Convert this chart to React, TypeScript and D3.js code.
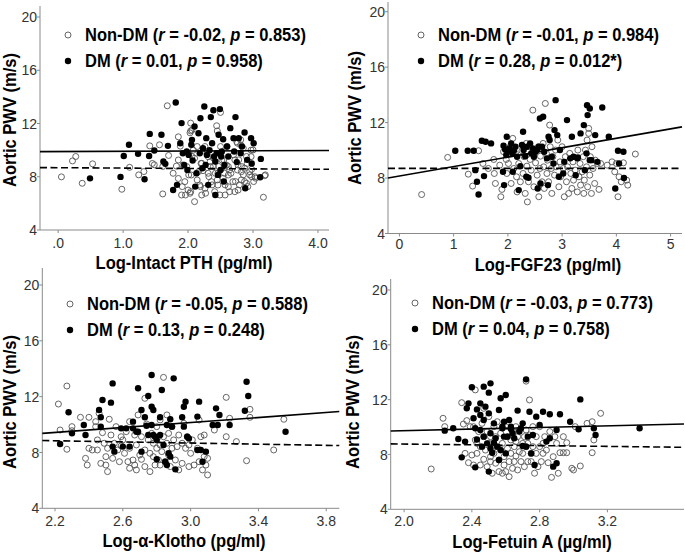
import React from 'react';
import * as d3 from 'd3';

type Pt = [number, number];

// ---------------- DATA ----------------
const yTicks = [4, 8, 12, 16, 20];

const xTickValues1 = [0, 1, 2, 3, 4];
const xTickLabels1 = ['.0', '1.0', '2.0', '3.0', '4.0'];
const xTickValues2 = [0, 1, 2, 3, 4, 5];
const xTickLabels2 = ['0', '1', '2', '3', '4', '5'];
const xTickValues3 = [2.2, 2.6, 3.0, 3.4, 3.8];
const xTickLabels3 = ['2.2', '2.6', '3.0', '3.4', '3.8'];
const xTickValues4 = [2.0, 2.4, 2.8, 3.2];
const xTickLabels4 = ['2.0', '2.4', '2.8', '3.2'];

const xTitles = ['Log-Intact PTH (pg/ml)', 'Log-FGF23 (pg/ml)', 'Log-α-Klotho (pg/ml)', 'Log-Fetuin A (µg/ml)'];
const yTitle = 'Aortic PWV (m/s)';

const nonDmR = ['-0.02', '-0.01', '-0.05', '-0.03'];
const nonDmP = ['0.853', '0.984', '0.588', '0.773'];
const dmR = ['0.01', '0.28', '0.13', '0.04'];
const dmP = ['0.958', '0.012*', '0.248', '0.758'];

// fit lines: intercept, slope
const dmFitIntercept = [9.89, 8.15, 7.48, 9.15];
const dmFitSlope = [0.02, 0.68, 0.89, 0.294];
const nonDmFitIntercept = [8.68, 8.7, 9.29, 9.05];
const nonDmFitSlope = [-0.029, 0, -0.205, -0.144];

const pthNonDM: Pt[] = [
  [0.05,7.99],[0.22,9.19],[0.27,9.52],[0.37,7.51],[0.53,8.97],[0.98,7.06],[1.10,8.71],[1.24,8.14],[1.32,8.39],[1.41,10.32],
  [1.45,9.0],[1.48,8.9],[1.56,10.4],[1.61,8.77],[1.61,6.71],[1.68,13.33],[1.70,9.6],[1.77,8.26],[1.82,8.8],[1.85,11.0],
  [1.88,10.3],[1.91,7.26],[1.96,6.63],[1.98,8.76],[2.01,8.14],[2.04,6.88],[2.06,9.52],[2.08,10.0],[2.10,6.13],[2.14,10.27],
  [2.14,7.76],[2.19,7.26],[2.20,9.0],[2.23,8.46],[2.27,6.76],[2.29,9.77],[2.32,8.01],[2.34,8.77],[2.37,7.39],[2.39,9.4],
  [2.42,8.26],[2.45,7.76],[2.47,8.77],[2.49,6.63],[2.50,10.27],[2.50,12.83],[2.55,9.27],[2.56,8.26],[2.57,7.39],[2.60,10.27],
  [2.62,8.77],[2.64,6.88],[2.66,8.26],[2.70,9.65],[2.73,7.64],[2.76,10.52],[2.76,8.51],[2.78,9.27],[2.79,7.39],[2.81,10.77],
  [2.82,8.77],[2.85,8.14],[2.87,7.64],[2.90,9.52],[2.91,9.0],[2.92,7.26],[2.95,8.14],[2.97,10.0],[2.98,8.56],[3.01,7.64],
  [3.04,7.89],[3.16,6.46],[3.19,8.14],[2.04,12.03],[2.06,11.5],[2.03,11.3],[2.04,11.44],[2.26,10.27],[2.44,11.83],[2.45,11.44],
  [2.75,10.63],[2.81,10.39],[2.85,10.14],[3.0,10.01],[2.97,9.51],[1.85,9.26],[1.92,8.88],[2.10,9.39],[2.21,9.01],[2.31,9.51],
  [2.34,9.13],[2.39,8.76],[2.52,9.26],[2.59,8.88],[2.64,8.51],[2.72,9.26],[2.77,8.88],[2.82,8.38],[2.87,8.64],[2.95,8.38],
  [3.03,8.0],[3.18,8.08],[1.85,7.87],[1.95,7.63],[2.0,7.0],[2.18,7.38],[2.26,7.13],[2.36,7.63],[2.46,7.38],[2.54,7.88],
  [2.62,7.25],[2.69,7.63],[2.77,7.0],[2.82,7.76],[2.90,7.51],[2.98,8.0],[1.90,6.63],[2.03,6.76],[2.21,6.63],[2.57,6.63],
  [2.41,6.88],[2.72,6.88],[2.31,8.26],[2.46,8.26],[2.62,8.13],[2.16,8.38],[2.05,8.13],
];
const pthDM: Pt[] = [
  [0.49,7.88],[0.96,7.99],[1.01,9.56],[1.09,10.4],[1.23,9.72],[1.33,7.81],[1.40,9.56],[1.41,11.22],[1.48,9.97],[1.59,11.15],
  [1.62,9.14],[1.65,8.97],[1.69,10.32],[1.77,7.01],[1.81,13.58],[1.83,7.39],[1.88,10.52],[1.90,12.03],[1.92,9.77],[1.94,8.89],
  [1.98,9.9],[1.99,8.51],[2.01,9.64],[2.05,10.4],[2.06,10.77],[2.07,9.22],[2.10,11.77],[2.11,7.26],[2.13,8.26],[2.16,11.27],
  [2.18,9.77],[2.19,12.4],[2.22,8.64],[2.23,10.15],[2.25,13.28],[2.27,8.89],[2.28,10.9],[2.29,9.64],[2.31,7.39],[2.33,10.0],
  [2.35,12.48],[2.37,10.52],[2.39,13.0],[2.40,9.52],[2.42,6.63],[2.42,9.14],[2.44,9.77],[2.46,8.14],[2.47,11.15],[2.49,13.08],
  [2.50,8.51],[2.51,9.52],[2.52,9.9],[2.54,10.82],[2.55,7.64],[2.56,8.89],[2.60,10.27],[2.62,9.52],[2.65,11.65],[2.70,10.9],
  [2.71,9.9],[2.73,12.48],[2.75,9.1],[2.78,10.9],[2.81,9.77],[2.83,10.27],[2.87,11.32],[2.88,7.14],[2.91,9.27],[2.97,10.9],
  [2.98,9.0],[3.01,10.52],[3.11,7.96],[3.12,9.34],
];

const fgfNonDM: Pt[] = [
  [0.41,6.81],[0.89,9.49],[1.27,8.28],[1.35,7.42],[1.46,9.97],[1.54,9.05],[1.64,8.69],[1.74,9.34],[1.75,8.33],[1.77,7.61],
  [1.85,8.93],[1.87,6.65],[1.89,7.18],[1.92,9.90],[1.97,9.34],[1.98,8.33],[2.01,9.05],[2.04,10.26],[2.06,7.61],[2.09,10.86],
  [2.11,8.69],[2.14,9.78],[2.16,8.09],[2.17,7.0],[2.20,9.05],[2.23,7.73],[2.26,9.97],[2.28,8.33],[2.30,9.54],[2.32,6.89],
  [2.34,10.5],[2.35,8.86],[2.36,6.28],[2.38,7.73],[2.40,10.26],[2.41,9.34],[2.43,8.57],[2.46,12.9],[2.48,7.37],[2.49,9.90],
  [2.51,9.10],[2.54,8.21],[2.56,10.26],[2.57,6.65],[2.59,8.69],[2.60,9.58],[2.63,7.73],[2.65,10.5],[2.66,8.81],[2.67,7.25],
  [2.69,13.38],[2.71,9.78],[2.72,8.33],[2.73,9.29],[2.75,7.73],[2.77,11.82],[2.78,10.26],[2.80,8.69],[2.81,6.89],[2.83,9.54],
  [2.86,8.21],[2.88,10.02],[2.89,8.81],[2.92,10.74],[2.94,7.37],[2.96,9.17],[2.97,8.09],[3.0,10.26],[3.02,8.69],[3.04,6.65],
  [3.06,9.54],[3.08,7.73],[3.10,8.81],[3.12,6.89],[3.14,9.78],[3.16,8.33],[3.18,7.25],[3.20,9.17],[3.21,7.85],[3.24,8.57],
  [3.28,7.0],[3.29,10.02],[3.31,8.09],[3.33,9.05],[3.34,7.49],[3.37,8.45],[3.39,9.54],[3.40,6.89],[3.41,7.85],[3.43,10.02],
  [3.45,8.81],[3.46,10.74],[3.47,7.37],[3.49,11.22],[3.49,11.58],[3.51,8.21],[3.52,9.54],[3.54,6.89],[3.55,10.26],[3.57,8.69],
  [3.60,7.61],[3.61,9.29],[3.65,9.05],[3.68,7.18],[3.71,9.05],[3.83,8.93],[3.92,9.17],[3.97,8.45],[4.0,9.05],[4.03,6.65],
  [4.05,8.09],[4.09,7.73],[4.13,9.10],[4.19,7.85],[4.21,7.49],[4.35,9.73],
];
const fgfDM: Pt[] = [
  [1.03,9.97],[1.26,9.97],[1.37,9.97],[1.40,8.57],[1.43,7.73],[1.46,6.81],[1.52,10.69],[1.59,10.62],[1.56,8.14],[1.69,10.5],
  [1.91,8.45],[1.92,10.33],[1.93,7.49],[1.95,10.06],[1.97,9.66],[1.98,10.98],[2.01,10.02],[2.03,10.13],[2.06,10.5],[2.08,9.78],
  [2.09,8.45],[2.11,9.97],[2.14,10.26],[2.17,9.54],[2.20,7.13],[2.23,8.86],[2.26,10.38],[2.28,11.34],[2.29,10.02],[2.32,9.58],
  [2.34,8.09],[2.35,10.26],[2.38,8.02],[2.41,10.5],[2.43,9.78],[2.46,10.13],[2.48,9.54],[2.51,9.90],[2.54,10.06],[2.55,7.25],
  [2.57,10.26],[2.59,12.30],[2.60,7.61],[2.63,10.26],[2.65,12.42],[2.67,9.90],[2.72,9.42],[2.74,7.49],[2.75,10.98],[2.77,10.74],
  [2.81,9.54],[2.84,9.05],[2.86,11.46],[2.88,13.62],[2.91,11.10],[2.94,8.09],[2.96,10.02],[3.02,8.33],[3.04,9.17],[3.09,12.18],
  [3.15,9.42],[3.18,10.98],[3.21,9.54],[3.25,8.21],[3.28,9.42],[3.29,9.49],[3.34,11.22],[3.40,11.82],[3.42,8.57],[3.45,9.78],
  [3.46,13.26],[3.51,13.02],[3.47,12.54],[3.51,9.29],[3.54,9.29],[3.61,11.10],[3.65,9.17],[3.74,13.09],[3.86,10.98],[3.98,7.25],
  [4.03,9.97],[4.05,9.05],[4.13,9.90],[4.14,8.0],
];

const klothoNonDM: Pt[] = [
  [2.22,11.47],[2.23,9.61],[2.27,12.76],[2.27,8.23],[2.30,9.85],[2.30,9.56],[2.35,10.52],[2.38,7.58],[2.39,7.10],[2.40,10.52],
  [2.40,8.30],[2.42,8.18],[2.44,10.21],[2.44,9.85],[2.45,8.90],[2.45,8.18],[2.46,10.81],[2.47,7.22],[2.48,9.42],[2.49,8.66],
  [2.50,7.70],[2.50,7.10],[2.51,6.63],[2.51,8.30],[2.52,10.38],[2.53,9.25],[2.54,7.58],[2.55,8.66],[2.56,9.85],[2.57,8.18],
  [2.58,7.34],[2.59,9.13],[2.59,8.47],[2.60,8.90],[2.61,7.94],[2.62,9.49],[2.63,7.34],[2.64,10.21],[2.64,6.87],[2.64,8.30],
  [2.66,7.46],[2.67,9.25],[2.67,7.10],[2.68,8.54],[2.68,6.75],[2.69,10.69],[2.70,7.82],[2.71,7.51],[2.71,9.13],[2.73,6.99],
  [2.73,8.18],[2.73,11.88],[2.74,10.04],[2.75,8.90],[2.76,7.94],[2.76,6.63],[2.77,9.37],[2.78,8.66],[2.78,7.70],[2.79,7.10],
  [2.80,8.30],[2.80,9.85],[2.81,7.46],[2.81,9.13],[2.82,8.54],[2.82,10.33],[2.82,7.10],[2.83,8.06],[2.84,13.38],[2.84,9.13],
  [2.85,7.34],[2.86,10.69],[2.86,8.66],[2.87,7.82],[2.87,9.37],[2.88,6.99],[2.89,8.30],[2.89,9.85],[2.90,8.90],[2.91,7.46],
  [2.92,8.42],[2.93,6.75],[2.93,9.25],[2.95,8.66],[2.95,7.22],[2.96,10.09],[2.97,8.30],[2.98,9.13],[2.99,6.99],[2.99,8.54],
  [3.0,7.94],[3.01,8.90],[3.02,7.10],[3.04,8.30],[3.05,7.34],[3.05,10.33],[3.06,9.13],[3.07,6.75],[3.08,9.25],[3.08,7.70],
  [3.09,7.10],[3.10,6.39],[3.10,7.58],[3.14,9.61],[3.21,11.95],[3.21,9.13],[3.23,10.45],[3.27,8.78],[3.33,7.41],[3.35,10.52],
  [3.35,11.09],[3.49,8.18],[3.55,10.38],
];
const klothoDM: Pt[] = [
  [2.23,8.61],[2.28,10.88],[2.30,9.37],[2.37,9.97],[2.38,9.25],[2.46,11.04],[2.47,10.52],[2.47,9.85],[2.48,11.76],[2.53,11.57],
  [2.54,12.95],[2.54,8.42],[2.55,8.06],[2.59,9.73],[2.60,8.42],[2.62,9.73],[2.64,8.42],[2.66,10.21],[2.66,9.73],[2.68,9.49],
  [2.69,12.60],[2.69,9.49],[2.71,8.06],[2.71,11.04],[2.73,10.52],[2.74,9.92],[2.75,12.05],[2.75,9.25],[2.77,11.28],[2.77,9.97],
  [2.77,13.55],[2.78,9.25],[2.78,11.04],[2.79,9.13],[2.80,7.51],[2.80,8.90],[2.82,9.25],[2.82,10.52],[2.83,12.48],[2.84,8.54],
  [2.85,7.34],[2.86,7.10],[2.86,9.97],[2.87,7.94],[2.88,7.70],[2.88,10.38],[2.89,9.85],[2.90,13.31],[2.91,6.79],[2.95,10.52],
  [2.96,11.28],[2.96,9.85],[2.97,11.64],[2.98,9.13],[2.99,9.01],[3.04,10.57],[3.05,11.64],[3.04,8.18],[3.06,8.18],[3.07,7.34],
  [3.09,8.06],[3.13,9.97],[3.15,11.16],[3.16,9.97],[3.17,10.69],[3.23,9.97],[3.32,10.99],[3.33,13.07],[3.34,12.05],[3.56,9.49],
];

const fetuinNonDM: Pt[] = [
  [2.16,6.94],[2.23,10.64],[2.24,10.03],[2.34,11.78],[2.35,10.22],[2.36,8.08],[2.37,10.47],[2.38,7.40],[2.39,10.03],[2.40,7.96],
  [2.41,10.03],[2.41,7.23],[2.42,12.71],[2.42,9.06],[2.43,8.81],[2.43,8.08],[2.44,9.67],[2.45,7.23],[2.45,8.57],[2.46,10.27],
  [2.47,7.65],[2.47,9.30],[2.47,11.37],[2.48,8.32],[2.49,7.11],[2.49,9.67],[2.50,8.81],[2.50,10.76],[2.51,7.84],[2.51,9.30],
  [2.51,7.48],[2.52,8.44],[2.52,6.63],[2.53,10.03],[2.53,8.08],[2.54,9.30],[2.54,7.36],[2.55,8.57],[2.55,10.39],[2.56,6.75],
  [2.56,7.60],[2.57,9.55],[2.57,8.32],[2.58,6.63],[2.58,8.81],[2.59,7.84],[2.59,7.23],[2.60,10.03],[2.60,6.75],[2.61,8.44],
  [2.61,9.30],[2.62,7.48],[2.62,6.38],[2.63,8.08],[2.63,9.06],[2.64,9.67],[2.64,6.99],[2.65,8.57],[2.65,7.48],[2.66,10.03],
  [2.66,8.94],[2.66,7.89],[2.67,9.30],[2.67,6.87],[2.68,8.20],[2.68,9.79],[2.69,7.48],[2.70,8.81],[2.70,8.08],[2.71,9.30],
  [2.71,7.11],[2.72,8.57],[2.72,9.79],[2.73,7.48],[2.73,8.81],[2.74,11.98],[2.74,9.42],[2.75,8.08],[2.75,7.48],[2.76,10.03],
  [2.76,8.57],[2.77,6.63],[2.78,8.08],[2.78,9.30],[2.79,7.11],[2.80,8.57],[2.80,10.03],[2.81,7.48],[2.82,8.81],[2.82,8.08],
  [2.83,9.30],[2.84,8.32],[2.85,7.40],[2.86,9.67],[2.87,6.33],[2.88,7.84],[2.89,9.30],[2.90,8.81],[2.91,6.63],[2.92,8.13],
  [2.94,9.30],[2.94,8.13],[2.96,8.13],[2.96,8.86],[2.99,6.99],[3.00,6.87],[3.01,10.03],[3.04,7.16],[3.08,10.27],[3.11,10.39],
  [3.11,8.13],[3.12,9.06],[3.16,11.00],[2.72,13.35],
];
const fetuinDM: Pt[] = [
  [2.24,9.74],[2.29,9.91],[2.32,9.13],[2.34,7.79],[2.36,8.94],[2.37,11.37],[2.38,11.73],[2.40,12.90],[2.41,10.64],[2.42,7.06],
  [2.50,6.75],[2.42,9.91],[2.43,9.10],[2.43,11.29],[2.45,9.79],[2.45,11.73],[2.47,12.95],[2.51,13.19],[2.50,12.51],[2.45,10.88],
  [2.46,8.57],[2.47,9.30],[2.47,10.52],[2.48,11.49],[2.49,8.81],[2.50,11.0],[2.51,8.44],[2.51,9.55],[2.52,8.13],[2.53,8.86],
  [2.53,10.27],[2.54,9.18],[2.55,8.57],[2.56,7.60],[2.56,11.25],[2.57,12.10],[2.57,8.32],[2.58,9.91],[2.58,10.03],[2.59,10.39],
  [2.59,9.30],[2.60,8.08],[2.60,12.34],[2.61,9.30],[2.62,10.52],[2.63,9.84],[2.63,10.03],[2.64,9.55],[2.65,9.18],[2.67,11.20],
  [2.68,9.67],[2.69,9.91],[2.70,10.27],[2.70,8.62],[2.72,13.48],[2.72,8.57],[2.73,9.30],[2.74,11.12],[2.75,8.08],[2.76,9.42],
  [2.77,7.23],[2.78,10.76],[2.80,10.15],[2.82,11.12],[2.84,8.94],[2.86,10.93],[2.86,9.18],[2.88,7.11],[2.90,7.36],[2.90,9.79],
  [2.92,10.93],[2.98,10.39],[3.03,9.84],[3.04,12.02],[3.12,9.91],[3.13,9.42],[3.39,9.91],
];

// ---------------- LAYOUT ----------------
interface Layout {
  xDom: [number, number];
  xPix: [number, number];
  yPix: [number, number]; // pixel of y=4, y=20
  axisTop: number;
  legendX: number;
  legendY: number;
  yTitleX: number;
  yTitleY: number;
  xTitleX: number;
  xTitleY: number;
  tickGap: number;
}

const layouts: Layout[] = [
  { xDom: [-0.28, 4.17], xPix: [40, 329], yPix: [230, 17], axisTop: 6, legendX: 68, legendY: 35, yTitleX: 9, yTitleY: 120, xTitleX: 184, xTitleY: 269, tickGap: 17.5 },
  { xDom: [-0.21, 5.21], xPix: [388, 682], yPix: [233.5, 11.7], axisTop: 2, legendX: 421, legendY: 35, yTitleX: 354, yTitleY: 118, xTitleX: 548, xTitleY: 271, tickGap: 15 },
  { xDom: [2.125, 3.877], xPix: [42.3, 339.3], yPix: [508.3, 285], axisTop: 268, legendX: 70, legendY: 304, yTitleX: 9, yTitleY: 402, xTitleX: 184, xTitleY: 547, tickGap: 17.5 },
  { xDom: [1.921, 3.652], xPix: [390.7, 684], yPix: [509.3, 290], axisTop: 279, legendX: 415, legendY: 303, yTitleX: 352, yTitleY: 402, xTitleX: 532, xTitleY: 548, tickGap: 17 },
];

const panelData = [
  { nonDM: pthNonDM, dm: pthDM, xt: xTickValues1, xl: xTickLabels1 },
  { nonDM: fgfNonDM, dm: fgfDM, xt: xTickValues2, xl: xTickLabels2 },
  { nonDM: klothoNonDM, dm: klothoDM, xt: xTickValues3, xl: xTickLabels3 },
  { nonDM: fetuinNonDM, dm: fetuinDM, xt: xTickValues4, xl: xTickLabels4 },
];

const FONT = 'Liberation Sans, Arial, sans-serif';
const AXIS_COLOR = '#8a8a8a';
const TICK_TEXT = '#333';
const STRETCH = 'scale(1,1.13)';

function Panel({ i }: { i: number }) {
  const L = layouts[i];
  const D = panelData[i];
  const x = d3.scaleLinear().domain(L.xDom).range(L.xPix);
  const y = d3.scaleLinear().domain([4, 20]).range(L.yPix);
  const fit = (a: number, b: number) =>
    d3.line<number>().x((v) => x(v)).y((v) => y(a + b * v))(L.xDom as number[]) || '';
  const x0 = L.xPix[0];
  const yBase = L.yPix[0];
  return (
    <g>
      {/* axes */}
      <line x1={x0} x2={x0} y1={L.axisTop} y2={yBase} stroke={AXIS_COLOR} strokeWidth={1} />
      <line x1={x0} x2={L.xPix[1]} y1={yBase} y2={yBase} stroke={AXIS_COLOR} strokeWidth={1} />
      {yTicks.map((t) => (
        <g key={'y' + t}>
          <line x1={x0 - 3} x2={x0} y1={y(t)} y2={y(t)} stroke={AXIS_COLOR} />
          <text x={x0 - 3} y={y(t)} dy="0.36em" textAnchor="end" fontSize={14} fill={TICK_TEXT} fontFamily={FONT}>{t}</text>
        </g>
      ))}
      {D.xt.map((t, k) => (
        <g key={'x' + t}>
          <line x1={x(t)} x2={x(t)} y1={yBase} y2={yBase + 3} stroke={AXIS_COLOR} />
          <text x={x(t)} y={yBase + L.tickGap} textAnchor="middle" fontSize={14} fill={TICK_TEXT} fontFamily={FONT}>{D.xl[k]}</text>
        </g>
      ))}
      {/* points */}
      {D.nonDM.map((p, k) => (
        <circle key={'n' + k} cx={x(p[0])} cy={y(p[1])} r={3} fill="none" stroke="#555" strokeWidth={0.9} />
      ))}
      {D.dm.map((p, k) => (
        <circle key={'d' + k} cx={x(p[0])} cy={y(p[1])} r={3.2} fill="#000" />
      ))}
      {/* fit lines */}
      <path d={fit(dmFitIntercept[i], dmFitSlope[i])} stroke="#000" strokeWidth={1.6} fill="none" />
      <path d={fit(nonDmFitIntercept[i], nonDmFitSlope[i])} stroke="#000" strokeWidth={1.6} fill="none" strokeDasharray="7,3.5" />
      {/* legend */}
      <circle cx={L.legendX} cy={L.legendY} r={3} fill="none" stroke="#555" strokeWidth={0.9} />
      <text transform={`translate(${L.legendX + 17},${L.legendY + 6}) ${STRETCH}`} fontSize={16.5} fontWeight="bold" fontFamily={FONT} fill="#000">
        Non-DM (<tspan fontStyle="italic">r</tspan> = {nonDmR[i]}, <tspan fontStyle="italic">p</tspan> = {nonDmP[i]})
      </text>
      <circle cx={L.legendX} cy={L.legendY + 26} r={3.2} fill="#000" />
      <text transform={`translate(${L.legendX + 17},${L.legendY + 32}) ${STRETCH}`} fontSize={16.5} fontWeight="bold" fontFamily={FONT} fill="#000">
        DM (<tspan fontStyle="italic">r</tspan> = {dmR[i]}, <tspan fontStyle="italic">p</tspan> = {dmP[i]})
      </text>
      {/* titles */}
      <text transform={`translate(${L.xTitleX},${L.xTitleY}) ${STRETCH}`} textAnchor="middle" fontSize={16.5} fontWeight="bold" fontFamily={FONT} fill="#000">{xTitles[i]}</text>
      <text transform={`translate(${L.yTitleX},${L.yTitleY}) rotate(-90) ${STRETCH}`} textAnchor="middle" dy="0.35em" fontSize={16.5} fontWeight="bold" fontFamily={FONT} fill="#000">{yTitle}</text>
    </g>
  );
}

export default function App() {
  return (
    <svg width={685} height={553} style={{ position: 'absolute', left: 0, top: 0, background: '#fff' }}>
      <rect width={685} height={553} fill="#fff" />
      {[0, 1, 2, 3].map((i) => <Panel key={i} i={i} />)}
    </svg>
  );
}
